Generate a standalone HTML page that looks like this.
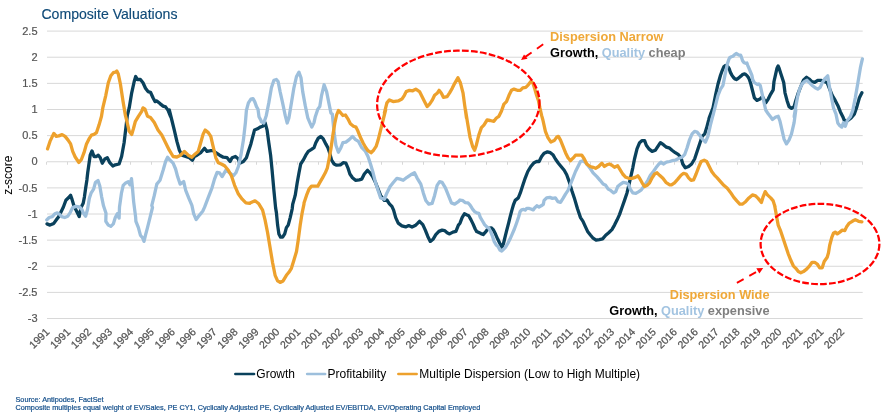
<!DOCTYPE html>
<html lang="en"><head><meta charset="utf-8"><title>Composite Valuations</title>
<style>html,body{margin:0;padding:0;background:#fff}body{width:892px;height:414px;overflow:hidden}svg{display:block}text{font-family:"Liberation Sans",sans-serif}</style></head><body>
<svg width="892" height="414" viewBox="0 0 892 414">
<rect width="892" height="414" fill="#fff"/>
<g stroke="#d8d8d8" stroke-width="1" fill="none">
<line x1="47.0" y1="31.10" x2="862.7" y2="31.10"/>
<line x1="47.0" y1="57.23" x2="862.7" y2="57.23"/>
<line x1="47.0" y1="83.36" x2="862.7" y2="83.36"/>
<line x1="47.0" y1="109.49" x2="862.7" y2="109.49"/>
<line x1="47.0" y1="135.62" x2="862.7" y2="135.62"/>
<line x1="47.0" y1="161.75" x2="862.7" y2="161.75"/>
<line x1="47.0" y1="187.88" x2="862.7" y2="187.88"/>
<line x1="47.0" y1="214.01" x2="862.7" y2="214.01"/>
<line x1="47.0" y1="240.14" x2="862.7" y2="240.14"/>
<line x1="47.0" y1="266.27" x2="862.7" y2="266.27"/>
<line x1="47.0" y1="292.40" x2="862.7" y2="292.40"/>
<line x1="47.0" y1="318.53" x2="862.7" y2="318.53"/>
<line x1="46.50" y1="161.75" x2="46.50" y2="164.75"/>
<line x1="67.50" y1="161.75" x2="67.50" y2="164.75"/>
<line x1="88.50" y1="161.75" x2="88.50" y2="164.75"/>
<line x1="109.50" y1="161.75" x2="109.50" y2="164.75"/>
<line x1="130.50" y1="161.75" x2="130.50" y2="164.75"/>
<line x1="151.50" y1="161.75" x2="151.50" y2="164.75"/>
<line x1="172.50" y1="161.75" x2="172.50" y2="164.75"/>
<line x1="193.50" y1="161.75" x2="193.50" y2="164.75"/>
<line x1="214.50" y1="161.75" x2="214.50" y2="164.75"/>
<line x1="235.50" y1="161.75" x2="235.50" y2="164.75"/>
<line x1="256.50" y1="161.75" x2="256.50" y2="164.75"/>
<line x1="276.50" y1="161.75" x2="276.50" y2="164.75"/>
<line x1="297.50" y1="161.75" x2="297.50" y2="164.75"/>
<line x1="318.50" y1="161.75" x2="318.50" y2="164.75"/>
<line x1="339.50" y1="161.75" x2="339.50" y2="164.75"/>
<line x1="360.50" y1="161.75" x2="360.50" y2="164.75"/>
<line x1="381.50" y1="161.75" x2="381.50" y2="164.75"/>
<line x1="402.50" y1="161.75" x2="402.50" y2="164.75"/>
<line x1="423.50" y1="161.75" x2="423.50" y2="164.75"/>
<line x1="444.50" y1="161.75" x2="444.50" y2="164.75"/>
<line x1="465.50" y1="161.75" x2="465.50" y2="164.75"/>
<line x1="486.50" y1="161.75" x2="486.50" y2="164.75"/>
<line x1="507.50" y1="161.75" x2="507.50" y2="164.75"/>
<line x1="527.50" y1="161.75" x2="527.50" y2="164.75"/>
<line x1="548.50" y1="161.75" x2="548.50" y2="164.75"/>
<line x1="569.50" y1="161.75" x2="569.50" y2="164.75"/>
<line x1="590.50" y1="161.75" x2="590.50" y2="164.75"/>
<line x1="611.50" y1="161.75" x2="611.50" y2="164.75"/>
<line x1="632.50" y1="161.75" x2="632.50" y2="164.75"/>
<line x1="653.50" y1="161.75" x2="653.50" y2="164.75"/>
<line x1="674.50" y1="161.75" x2="674.50" y2="164.75"/>
<line x1="695.50" y1="161.75" x2="695.50" y2="164.75"/>
<line x1="716.50" y1="161.75" x2="716.50" y2="164.75"/>
<line x1="737.50" y1="161.75" x2="737.50" y2="164.75"/>
<line x1="758.50" y1="161.75" x2="758.50" y2="164.75"/>
<line x1="778.50" y1="161.75" x2="778.50" y2="164.75"/>
<line x1="799.50" y1="161.75" x2="799.50" y2="164.75"/>
<line x1="820.50" y1="161.75" x2="820.50" y2="164.75"/>
<line x1="841.50" y1="161.75" x2="841.50" y2="164.75"/>
<line x1="862.50" y1="161.75" x2="862.50" y2="164.75"/>
</g>
<g font-size="11" fill="#555" stroke="#555" stroke-width="0.2" text-anchor="end">
<text x="37.5" y="34.80">2.5</text>
<text x="37.5" y="60.93">2</text>
<text x="37.5" y="87.06">1.5</text>
<text x="37.5" y="113.19">1</text>
<text x="37.5" y="139.32">0.5</text>
<text x="37.5" y="165.45">0</text>
<text x="37.5" y="191.58">-0.5</text>
<text x="37.5" y="217.71">-1</text>
<text x="37.5" y="243.84">-1.5</text>
<text x="37.5" y="269.97">-2</text>
<text x="37.5" y="296.10">-2.5</text>
<text x="37.5" y="322.23">-3</text>
</g>
<text transform="translate(12.0,175.2) rotate(-90)" font-size="12" fill="#000" text-anchor="middle">z-score</text>
<g font-size="10.6" fill="#555" stroke="#555" stroke-width="0.25" text-anchor="end">
<text transform="translate(50.20,332.6) rotate(-45)">1991</text>
<text transform="translate(71.12,332.6) rotate(-45)">1991</text>
<text transform="translate(92.03,332.6) rotate(-45)">1992</text>
<text transform="translate(112.94,332.6) rotate(-45)">1993</text>
<text transform="translate(133.86,332.6) rotate(-45)">1994</text>
<text transform="translate(154.77,332.6) rotate(-45)">1995</text>
<text transform="translate(175.69,332.6) rotate(-45)">1996</text>
<text transform="translate(196.61,332.6) rotate(-45)">1996</text>
<text transform="translate(217.52,332.6) rotate(-45)">1997</text>
<text transform="translate(238.44,332.6) rotate(-45)">1998</text>
<text transform="translate(259.35,332.6) rotate(-45)">1999</text>
<text transform="translate(280.26,332.6) rotate(-45)">2000</text>
<text transform="translate(301.18,332.6) rotate(-45)">2001</text>
<text transform="translate(322.09,332.6) rotate(-45)">2001</text>
<text transform="translate(343.01,332.6) rotate(-45)">2002</text>
<text transform="translate(363.92,332.6) rotate(-45)">2003</text>
<text transform="translate(384.84,332.6) rotate(-45)">2004</text>
<text transform="translate(405.75,332.6) rotate(-45)">2005</text>
<text transform="translate(426.67,332.6) rotate(-45)">2006</text>
<text transform="translate(447.58,332.6) rotate(-45)">2006</text>
<text transform="translate(468.50,332.6) rotate(-45)">2007</text>
<text transform="translate(489.41,332.6) rotate(-45)">2008</text>
<text transform="translate(510.33,332.6) rotate(-45)">2009</text>
<text transform="translate(531.25,332.6) rotate(-45)">2010</text>
<text transform="translate(552.16,332.6) rotate(-45)">2011</text>
<text transform="translate(573.08,332.6) rotate(-45)">2011</text>
<text transform="translate(593.99,332.6) rotate(-45)">2012</text>
<text transform="translate(614.90,332.6) rotate(-45)">2013</text>
<text transform="translate(635.82,332.6) rotate(-45)">2014</text>
<text transform="translate(656.74,332.6) rotate(-45)">2015</text>
<text transform="translate(677.65,332.6) rotate(-45)">2016</text>
<text transform="translate(698.57,332.6) rotate(-45)">2016</text>
<text transform="translate(719.48,332.6) rotate(-45)">2017</text>
<text transform="translate(740.39,332.6) rotate(-45)">2018</text>
<text transform="translate(761.31,332.6) rotate(-45)">2019</text>
<text transform="translate(782.23,332.6) rotate(-45)">2020</text>
<text transform="translate(803.14,332.6) rotate(-45)">2021</text>
<text transform="translate(824.06,332.6) rotate(-45)">2021</text>
<text transform="translate(844.97,332.6) rotate(-45)">2022</text>
</g>
<text x="41.4" y="18.7" font-size="14.1" fill="#0f4a78" stroke="#0f4a78" stroke-width="0.15">Composite Valuations</text>
<polyline fill="none" stroke="#0a415c" stroke-width="3.3" stroke-linejoin="round" stroke-linecap="round" points="47.0,223.9 50.0,225.1 53.8,223.4 57.1,218.8 58.5,216.9 61.0,211.9 63.4,207.0 65.9,200.2 68.4,197.8 70.6,195.3 72.1,199.6 73.9,205.8 76.4,210.7 79.2,216.6 80.1,211.9 81.3,207.0 83.2,203.3 84.4,197.1 85.6,188.5 86.9,179.9 87.7,172.8 90.2,155.2 92.0,150.9 94.0,156.5 96.5,156.5 98.3,155.2 100.3,157.7 102.3,163.2 104.8,159.0 107.3,157.7 109.8,162.7 112.8,166.0 115.3,164.8 119.1,164.0 121.6,156.5 124.1,142.7 125.9,127.6 127.4,115.0 129.2,107.9 131.7,92.8 134.2,81.5 135.7,76.5 137.4,79.5 140.4,79.5 143.0,82.8 145.5,88.3 148.0,91.6 150.5,92.3 153.0,97.8 155.0,101.6 156.8,100.9 160.0,103.6 163.1,106.1 165.6,106.9 168.1,110.4 170.6,116.7 169.3,110.0 171.8,120.0 174.3,130.1 176.9,141.4 179.4,150.2 181.9,155.2 185.7,156.5 189.4,157.7 192.4,160.2 194.4,156.5 197.0,155.2 200.7,152.7 204.5,148.2 207.0,151.4 210.8,150.7 213.3,150.7 215.8,152.7 219.6,155.2 223.3,157.2 227.1,157.7 230.1,161.5 232.1,157.7 235.4,156.5 238.4,159.0 239.7,163.2 243.4,161.5 246.4,157.7 248.4,151.4 250.9,143.9 252.5,137.6 254.5,130.1 257.5,128.8 260.1,127.1 262.6,126.3 265.1,122.6 267.1,130.1 268.8,142.7 270.6,155.2 272.1,170.3 273.9,190.4 275.6,207.9 276.4,212.6 277.6,225.1 278.9,233.9 280.6,237.2 282.6,237.2 284.7,233.9 286.4,227.6 288.2,225.1 290.2,217.6 292.2,208.8 292.7,204.2 295.2,195.4 297.2,182.8 299.0,172.8 300.7,164.0 303.2,160.2 305.8,155.2 308.3,151.4 311.5,149.4 314.0,147.7 315.8,142.7 318.3,138.1 320.8,136.4 323.3,138.9 325.8,143.9 327.9,147.7 329.6,152.7 331.6,160.2 334.1,164.0 336.6,165.2 340.4,164.8 343.4,162.7 345.9,163.2 347.9,167.8 349.9,174.0 352.5,177.8 355.5,180.3 359.2,179.8 361.8,179.1 364.3,174.0 367.5,170.3 370.0,172.8 372.6,176.6 375.6,182.8 378.1,189.1 380.6,195.4 384.4,200.4 386.9,200.0 389.4,203.8 391.9,206.3 393.6,210.1 395.7,217.6 398.2,223.1 401.9,225.9 405.7,226.9 408.7,225.6 412.0,227.1 415.2,225.6 417.8,223.1 419.5,221.3 422.8,224.6 425.3,230.1 427.8,236.4 430.3,241.4 433.3,238.9 435.8,234.7 438.9,231.4 442.1,230.1 444.6,230.6 447.1,232.7 449.6,233.9 452.9,232.1 455.9,231.4 458.4,225.1 460.0,223.2 462.2,217.4 464.4,213.8 466.5,214.8 468.7,215.7 470.9,219.6 473.0,223.9 475.2,229.0 476.7,231.6 478.8,232.6 481.0,233.6 483.2,234.5 485.4,232.2 487.2,229.7 489.0,228.3 491.2,227.8 493.3,229.7 495.5,234.1 497.7,239.1 499.9,243.5 502.0,247.1 503.5,243.5 504.9,237.7 506.7,230.4 508.6,223.2 510.0,217.4 511.9,210.1 513.6,204.3 515.2,200.4 518.3,197.9 520.3,192.9 522.8,185.3 525.3,177.8 527.8,171.5 530.8,166.5 534.1,162.7 536.6,161.5 539.1,161.5 541.6,156.5 544.1,153.2 547.4,151.9 550.4,152.7 552.9,154.7 555.4,159.0 558.4,163.2 561.7,167.3 564.2,170.3 566.7,174.8 569.2,181.6 571.8,190.4 574.3,197.9 577.5,208.8 580.5,217.6 583.0,221.3 585.6,227.1 587.6,231.4 590.6,235.2 593.1,238.2 596.1,240.2 599.4,239.7 602.6,238.9 605.7,235.2 608.7,232.7 611.9,229.6 614.5,225.1 617.0,220.1 619.5,214.6 622.0,207.5 624.5,200.4 627.0,192.9 628.8,185.3 630.8,176.6 632.8,167.8 634.5,159.0 637.0,148.9 639.6,142.7 642.1,140.6 644.6,140.6 646.3,145.2 648.9,148.9 652.1,151.4 655.4,150.2 657.9,146.4 660.4,142.7 663.4,144.7 666.4,147.2 669.7,148.2 672.0,150.2 675.3,152.7 678.5,154.7 681.0,157.7 682.8,164.0 685.3,167.8 688.6,166.5 691.6,164.0 694.6,159.0 697.1,151.4 699.6,143.9 702.1,136.4 704.7,133.9 706.7,127.6 708.7,120.0 709.2,117.9 713.0,107.9 715.5,95.3 718.0,84.0 720.5,75.2 722.3,70.3 723.8,66.8 725.4,65.5 726.9,65.8 728.4,67.3 729.4,69.3 730.4,72.4 732.0,75.4 733.5,77.5 735.0,79.0 736.3,79.5 738.0,78.5 739.5,77.2 741.1,75.9 742.6,74.6 744.1,73.9 745.6,74.4 747.2,75.9 748.7,78.0 749.7,80.5 750.7,83.5 754.4,97.8 756.9,100.4 759.9,99.1 762.4,96.6 765.7,102.9 768.2,99.1 770.7,94.1 773.2,89.8 774.0,81.5 775.6,74.4 776.9,68.5 778.1,66.0 779.2,68.5 780.6,72.9 782.1,77.5 783.7,82.5 785.0,92.8 787.0,100.4 789.0,106.6 791.5,108.4 794.1,106.6 795.8,100.4 798.3,92.8 800.8,86.5 803.4,80.3 806.6,77.3 809.1,79.0 811.6,81.5 814.7,82.3 817.7,80.3 820.9,80.3 824.2,81.5 827.2,82.8 829.7,89.1 832.2,95.3 835.2,100.4 837.8,105.4 840.3,111.7 842.8,116.7 844.8,121.7 847.8,120.5 851.1,117.9 854.3,114.2 856.9,106.6 859.4,97.8 861.9,92.8"/>
<polyline fill="none" stroke="#9dbfdc" stroke-width="3.3" stroke-linejoin="round" stroke-linecap="round" points="46.8,219.9 49.2,217.5 52.3,216.6 54.8,213.8 57.3,212.9 59.7,214.4 61.6,216.6 64.7,217.5 67.8,216.2 70.2,212.6 72.7,207.6 75.8,206.4 79.5,207.0 81.9,209.5 83.8,213.8 85.6,216.2 87.5,209.5 89.3,198.4 91.2,192.8 93.6,189.1 95.5,182.3 98.0,180.5 99.8,186.0 101.7,197.1 103.5,205.8 106.0,213.2 105.8,221.3 108.3,225.1 110.8,226.4 113.3,223.9 115.3,217.6 117.3,213.8 119.1,218.1 119.5,207.0 121.4,193.4 123.2,185.4 125.7,182.9 128.2,181.7 130.0,184.8 131.5,178.6 132.5,188.5 133.7,202.1 135.6,216.9 135.9,221.3 138.4,227.6 140.4,235.2 142.5,237.7 144.0,241.4 145.5,235.2 147.5,227.6 150.0,217.6 152.5,207.5 151.8,205.4 154.3,195.4 156.8,184.1 160.0,180.3 163.1,170.3 165.6,161.5 167.6,157.2 170.1,160.2 173.1,163.2 175.6,169.0 177.6,176.6 180.1,184.1 183.7,181.6 185.7,190.4 188.7,197.9 191.9,205.4 193.7,213.8 196.2,219.6 199.5,215.1 202.7,211.3 204.5,207.4 208.3,197.4 212.0,187.8 214.5,179.1 217.1,172.3 219.6,172.8 222.1,176.6 225.8,170.3 228.3,171.8 230.9,173.8 233.4,175.8 235.9,172.8 238.4,166.5 240.9,155.2 243.4,140.1 245.4,122.6 246.4,110.4 248.4,102.9 250.9,99.1 253.0,98.6 254.7,101.6 256.5,106.6 258.0,109.2 259.0,116.7 261.0,120.5 261.3,121.7 263.8,123.0 266.3,115.4 268.8,102.9 271.4,87.8 273.9,80.3 276.4,79.5 278.1,81.5 280.1,91.6 282.6,102.9 285.2,115.4 287.2,123.0 288.9,117.9 291.4,102.9 293.9,87.8 296.5,76.5 299.0,72.2 301.0,77.8 302.7,91.6 305.2,105.4 307.8,117.9 309.8,122.6 311.8,127.1 314.0,122.6 315.3,116.7 317.8,109.2 319.8,106.6 321.6,95.3 324.1,84.8 326.6,91.6 329.1,104.1 330.9,112.9 332.4,114.2 332.4,115.0 334.1,132.6 335.9,145.2 338.4,152.2 340.9,147.7 342.9,142.7 345.9,142.1 349.2,139.6 352.5,136.4 355.5,139.6 358.5,141.4 361.8,147.7 365.5,151.4 368.0,156.5 370.5,164.0 373.1,172.8 375.6,182.8 378.1,190.4 380.6,197.9 384.4,199.2 386.9,192.9 390.1,186.6 393.1,182.8 396.9,178.3 400.2,179.1 403.2,180.3 407.0,177.3 410.7,174.8 414.5,172.8 417.0,177.8 420.8,184.1 423.3,192.9 425.8,200.4 428.8,204.2 432.1,203.4 434.6,195.4 437.1,185.3 439.6,181.6 442.1,182.3 445.4,187.8 448.4,195.4 451.4,202.9 454.7,204.2 458.4,201.7 460.0,200.0 462.9,200.7 465.1,202.6 468.0,202.9 470.1,205.1 472.3,208.7 474.5,211.6 476.7,212.8 478.8,213.3 480.3,217.4 482.5,221.0 484.6,224.6 486.8,226.8 489.0,228.3 490.4,231.2 492.2,235.5 494.1,241.3 496.2,244.9 498.0,246.4 499.9,250.0 501.7,251.0 503.5,249.3 505.6,247.1 507.8,243.5 510.0,239.1 512.2,234.1 514.4,229.0 516.5,223.2 518.7,216.7 520.1,211.6 521.6,209.9 523.8,209.4 525.2,210.1 526.7,208.4 528.8,208.4 531.0,209.0 533.2,209.9 534.6,208.0 536.8,205.8 539.0,207.0 541.2,205.8 543.3,204.3 544.1,200.4 546.6,197.9 549.9,197.4 552.4,198.4 555.4,197.9 557.9,201.7 560.5,202.4 563.0,198.4 565.5,194.1 568.0,190.4 570.5,184.1 573.0,177.8 575.5,171.5 578.0,166.5 580.5,161.5 583.0,160.7 585.6,162.7 588.1,165.8 590.6,169.0 593.1,172.8 596.9,176.6 600.1,180.3 603.1,184.1 605.7,185.3 608.2,189.1 610.7,190.4 613.7,192.9 615.7,191.6 617.7,186.6 620.7,184.1 623.2,182.3 625.8,182.8 628.3,184.1 630.3,189.1 632.8,192.9 635.8,193.4 638.8,191.6 641.3,189.9 644.6,185.3 647.9,180.3 650.4,175.3 653.4,171.5 655.9,167.8 658.9,164.0 660.9,162.2 663.4,164.0 666.4,162.2 669.7,161.5 672.0,160.7 675.3,160.2 679.0,158.2 682.1,157.2 684.6,154.7 687.1,147.7 689.6,139.6 692.1,133.9 694.6,131.3 697.1,132.1 699.6,135.1 702.1,138.9 705.4,142.1 707.9,136.4 710.4,125.1 713.0,115.0 713.0,115.4 715.5,105.4 718.0,95.3 720.5,89.1 723.0,85.3 724.9,75.4 726.2,69.3 727.4,63.8 728.9,59.2 729.9,57.4 731.4,56.7 733.0,56.2 734.5,54.8 736.2,53.4 737.5,54.3 739.0,55.1 740.6,55.1 741.6,57.7 742.6,60.7 744.1,62.8 745.6,63.3 746.9,63.0 747.7,65.3 749.2,68.8 750.7,72.4 751.9,75.4 752.7,79.5 754.3,82.5 755.8,83.5 757.3,84.5 758.8,84.0 760.3,85.6 765.7,110.0 768.2,113.8 770.7,117.0 772.5,119.5 775.7,117.0 778.2,116.3 780.0,121.3 782.0,130.1 784.0,138.9 786.5,143.9 789.0,140.1 791.5,133.9 794.1,122.6 795.8,110.0 794.1,116.7 795.8,106.6 797.6,96.6 799.6,89.1 802.1,84.0 804.6,81.5 807.1,80.3 809.6,82.8 812.6,85.8 815.2,87.8 817.7,89.1 820.2,87.3 822.2,82.8 824.7,79.0 827.7,75.8 829.2,85.3 831.0,95.3 833.5,107.9 836.0,114.2 837.8,123.0 839.3,125.1 841.8,127.1 843.5,122.6 845.3,126.3 847.3,120.5 850.3,116.8 852.8,110.4 855.3,97.8 857.9,82.8 860.4,67.7 862.4,58.9"/>
<polyline fill="none" stroke="#eda12d" stroke-width="3.3" stroke-linejoin="round" stroke-linecap="round" points="47.5,148.9 50.0,141.4 53.8,133.4 56.3,136.4 58.8,135.9 62.1,134.6 65.1,136.4 68.1,140.1 70.6,143.9 72.7,151.4 75.2,157.0 78.9,162.5 81.4,159.5 84.0,152.7 86.5,143.9 89.0,138.9 91.5,135.1 94.0,134.4 96.5,132.6 99.0,125.1 101.5,116.3 102.8,107.9 105.8,95.3 108.3,82.8 110.8,75.8 113.3,72.7 115.3,72.2 116.8,71.0 118.3,74.0 120.4,84.0 122.9,100.4 125.4,115.4 126.6,120.0 129.2,131.3 131.7,134.4 133.4,128.8 135.4,121.3 138.4,116.3 141.7,111.3 143.0,107.9 145.0,109.2 147.5,116.3 150.5,117.5 154.3,122.6 158.0,130.1 161.8,135.1 165.6,142.7 169.3,150.2 173.1,156.5 176.9,157.0 180.6,155.2 184.4,151.4 188.2,155.2 191.9,157.2 195.2,153.9 198.2,151.4 200.7,142.7 203.2,133.9 205.2,130.1 208.3,132.6 210.8,136.4 212.8,145.2 215.8,157.7 218.3,162.7 221.3,164.0 224.6,165.8 228.3,170.3 231.4,175.8 234.6,185.3 238.4,194.1 242.2,199.2 245.9,202.9 249.7,203.4 250.0,203.0 255.0,200.8 258.8,203.8 262.6,210.1 265.1,220.1 267.6,232.7 270.1,247.7 272.6,262.8 275.1,275.3 277.6,280.9 280.1,282.4 283.1,280.9 286.4,275.3 288.9,272.3 291.4,268.3 293.9,260.3 296.5,251.5 298.2,240.2 300.2,225.1 302.2,212.6 304.0,203.8 304.0,202.9 306.5,195.4 309.0,189.1 311.5,186.1 314.8,186.1 317.8,186.1 320.3,181.6 322.8,177.3 325.3,172.8 327.4,167.8 329.1,159.0 330.9,148.9 332.9,135.1 334.9,122.6 336.6,115.0 338.4,110.5 340.4,112.5 342.9,115.5 345.4,115.0 347.9,118.8 350.4,123.8 353.5,126.3 356.0,127.1 358.0,131.3 360.5,137.6 363.0,142.7 365.5,147.2 368.0,150.7 371.0,152.7 373.6,150.2 376.1,146.4 378.1,140.1 380.6,130.1 383.1,120.0 385.6,110.0 384.4,112.9 386.9,102.9 389.4,99.9 393.1,101.6 398.2,100.9 401.9,99.1 404.4,95.3 406.2,91.6 409.5,90.3 412.7,90.8 415.8,89.1 419.5,91.6 422.0,96.6 424.5,101.6 427.1,106.6 429.6,104.1 432.1,100.4 434.6,95.3 437.1,93.3 439.1,90.3 441.4,93.3 443.4,97.3 447.1,96.6 449.6,92.8 452.2,88.3 454.7,83.3 457.9,77.8 460.4,82.8 463.0,92.8 464.7,105.4 466.5,117.9 465.5,110.0 467.5,122.6 470.1,137.6 472.6,146.4 474.6,150.2 476.3,145.2 478.8,135.1 481.4,127.6 483.9,125.1 487.1,120.0 490.1,120.5 493.9,121.3 496.4,118.0 498.9,116.3 501.4,111.3 503.9,104.1 506.5,101.6 509.0,95.3 511.5,90.3 514.0,89.1 517.3,90.3 520.3,90.3 522.8,87.8 525.8,87.3 528.3,84.8 530.8,81.5 532.8,82.8 534.8,89.1 536.6,95.3 538.4,100.4 539.9,107.9 541.6,115.4 542.9,120.0 545.4,131.3 547.9,137.6 550.9,142.1 554.2,140.6 556.7,137.1 558.4,136.4 560.5,140.1 563.0,146.4 565.5,152.7 568.0,157.7 570.5,160.7 573.0,158.2 575.5,155.2 579.3,155.2 581.8,155.2 584.3,159.0 586.8,164.0 590.1,166.5 593.1,167.3 595.6,168.3 598.6,166.5 601.9,163.2 604.4,166.5 606.9,164.8 609.4,164.0 611.9,165.2 614.5,167.3 617.7,165.8 620.2,169.8 622.7,174.0 625.8,177.3 628.8,178.3 632.0,178.3 635.3,177.3 637.8,175.8 639.6,178.3 642.1,182.8 644.6,186.6 647.1,185.3 649.6,182.8 652.1,177.8 654.6,174.0 657.1,172.8 659.6,175.3 662.9,178.3 665.9,182.3 669.7,184.8 671.5,184.8 674.5,182.8 677.8,179.1 681.0,175.3 683.6,173.3 686.1,174.0 688.6,177.8 691.1,180.3 693.6,179.8 696.1,174.0 698.6,167.3 701.1,161.5 704.2,160.2 706.7,161.5 709.2,166.5 711.7,171.5 714.2,174.8 717.2,177.8 720.5,181.6 723.8,185.3 727.3,188.3 730.5,192.4 733.8,197.4 736.8,200.9 739.8,204.2 742.3,204.2 745.6,201.7 748.9,197.9 752.4,194.9 755.6,195.9 758.1,198.4 761.4,202.4 763.2,196.6 765.2,191.6 767.4,194.9 770.7,197.9 773.2,200.9 775.0,206.7 774.5,205.0 775.7,211.3 777.0,218.8 778.2,225.1 780.8,231.4 783.3,238.9 785.8,246.5 788.3,254.0 790.8,260.3 793.3,265.8 795.8,268.3 798.3,271.6 800.8,272.8 803.4,271.6 806.6,269.1 809.6,265.8 812.1,262.3 814.7,262.3 817.2,264.0 819.7,267.8 822.2,267.8 824.2,261.5 827.2,257.3 828.5,252.7 829.7,245.2 831.7,237.7 833.5,233.2 835.2,232.1 837.3,233.9 839.8,232.1 842.3,230.1 844.8,230.6 846.8,226.4 849.3,223.1 852.3,221.3 855.3,219.6 858.6,221.3 861.9,221.8"/>
<g fill="none" stroke="#ff0000" stroke-width="2.25" stroke-dasharray="6.75 2.25">
<ellipse cx="458.3" cy="103.6" rx="81.2" ry="53.0" transform="rotate(-1.2 458.3 103.6)"/>
<ellipse cx="820" cy="244" rx="59.4" ry="40.2"/>
</g>
<g fill="none" stroke="#ff0000" stroke-width="1.9" stroke-dasharray="7.7 6.5">
<line x1="543.2" y1="44.3" x2="524" y2="57.8"/>
<line x1="736.9" y1="282.8" x2="757.5" y2="271.3"/>
</g>
<g fill="#ff0000" stroke="none">
<polygon points="521.0,60.0 524.0,54.4 527.6,58.8"/>
<polygon points="756.3,268.2 763.2,268.0 759.4,273.6"/>
</g>
<g font-weight="bold" font-size="12.75">
<text x="550.1" y="40.8" fill="#efa838">Dispersion Narrow</text>
<text x="550.1" y="56.9"><tspan fill="#000">Growth, </tspan><tspan fill="#a3c4e1">Quality </tspan><tspan fill="#7f7f7f">cheap</tspan></text>
<text x="769.5" y="298.7" fill="#efa838" text-anchor="end">Dispersion Wide</text>
<text x="769.5" y="315" text-anchor="end"><tspan fill="#000">Growth, </tspan><tspan fill="#a3c4e1">Quality </tspan><tspan fill="#7f7f7f">expensive</tspan></text>
</g>
<g font-size="12.0" fill="#000">
<line x1="235.4" y1="374" x2="254" y2="374" stroke="#0a415c" stroke-width="2.7" stroke-linecap="round"/>
<text x="256.3" y="377.8">Growth</text>
<line x1="307.2" y1="374" x2="325.1" y2="374" stroke="#9dbfdc" stroke-width="2.7" stroke-linecap="round"/>
<text x="327.5" y="377.8">Profitability</text>
<line x1="398.4" y1="374" x2="416.6" y2="374" stroke="#eda12d" stroke-width="2.7" stroke-linecap="round"/>
<text x="419.3" y="377.8">Multiple Dispersion (Low to High Multiple)</text>
</g>
<g font-size="7.27" fill="#134e8a" stroke="#134e8a" stroke-width="0.2">
<text x="15.5" y="401.8">Source: Antipodes, FactSet</text>
<text x="15.5" y="409.9">Composite multiples equal weight of EV/Sales, PE CY1, Cyclically Adjusted PE, Cyclically Adjusted EV/EBITDA, EV/Operating Capital Employed</text>
</g>
</svg></body></html>
